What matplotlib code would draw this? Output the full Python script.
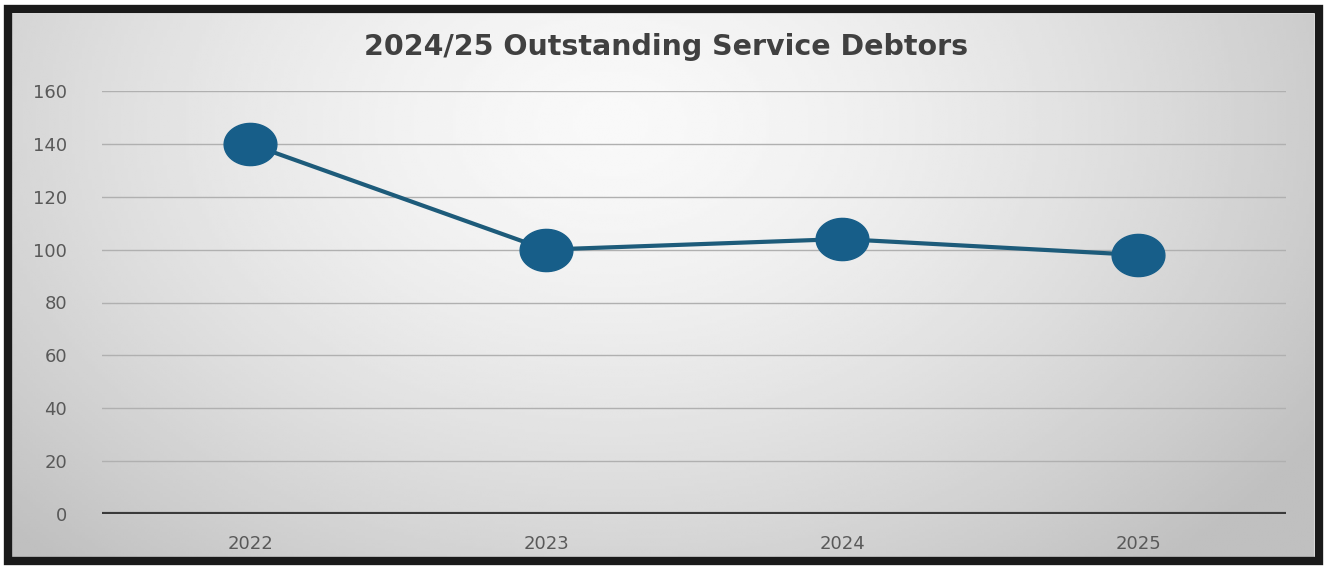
"""Line chart of outstanding service debtors by year."""

import matplotlib.pyplot as plt
import numpy as np
from matplotlib.patches import Rectangle
from matplotlib.path import Path

years = ["2022", "2023", "2024", "2025"]
debtors = [140, 100, 104, 98]
y_ticks = [0, 20, 40, 60, 80, 100, 120, 140, 160]

LINE_COLOR = "#1d5b7a"
MARKER_COLOR = "#175e89"
TEXT_COLOR = "#595959"

W, H, DPI = 1326, 567, 100

fig = plt.figure(figsize=(W / DPI, H / DPI), dpi=DPI)
fig.patch.set_facecolor("white")

# radial grey background inside the frame
bg = fig.add_axes([12 / W, 1 - 558 / H, (1314 - 12) / W, (558 - 14) / H])
bg.set_axis_off()
gx, gy = np.meshgrid(np.linspace(0, 1, 400), np.linspace(0, 1, 200))
dist = np.sqrt(((gx - 0.46) / 0.6) ** 2 + ((gy - 0.2) / 1.0) ** 2)
shade = np.clip(0.975 - 0.2 * dist ** 1.5, 0.75, 1.0)
bg.imshow(shade, cmap="gray", vmin=0, vmax=1, aspect="auto",
          extent=[0, 1, 1, 0], interpolation="bilinear")
bg.set_xlim(0, 1)
bg.set_ylim(1, 0)

# thick black frame
fig.patches.append(Rectangle((8 / W, 1 - 561 / H), (1319 - 8) / W, (561 - 9) / H,
                             transform=fig.transFigure, fill=False,
                             edgecolor="#1a1a1a", linewidth=6, zorder=10))

ax = fig.add_axes([102 / W, 1 - 514 / H, (1286 - 102) / W, (514 - 91) / H])
ax.patch.set_alpha(0)

x = np.arange(len(years))

# slightly wide ellipse marker
theta = np.linspace(0, 2 * np.pi, 60)
ellipse = Path(np.column_stack([1.25 * np.cos(theta), np.sin(theta)]), closed=True)

ax.plot(x, debtors, color=LINE_COLOR, linewidth=3, zorder=3,
        solid_capstyle="round")
ax.plot(x, debtors, linestyle="none", marker=ellipse, markersize=38,
        markerfacecolor=MARKER_COLOR, markeredgecolor=MARKER_COLOR, zorder=4)

ax.set_xlim(-0.5, len(years) - 0.5)
ax.set_ylim(0, 160)
ax.set_yticks(y_ticks)
ax.set_xticks(x)
ax.set_xticklabels(years)
ax.tick_params(axis="y", length=0, pad=25, labelsize=13, labelcolor=TEXT_COLOR)
ax.tick_params(axis="x", length=0, pad=15, labelsize=13, labelcolor=TEXT_COLOR)

for v in y_ticks[1:]:
    ax.axhline(v, color="#b0b0b0", linewidth=1, zorder=1)
ax.axhline(0, color="#3a3a3a", linewidth=3, zorder=2)

for side in ax.spines.values():
    side.set_visible(False)

fig.text(666 / W, 1 - 47 / H, "2024/25 Outstanding Service Debtors",
         ha="center", va="center", fontsize=20.5, fontweight="bold",
         color="#404040")

fig.savefig("out.png", dpi=DPI)
plt.close(fig)
